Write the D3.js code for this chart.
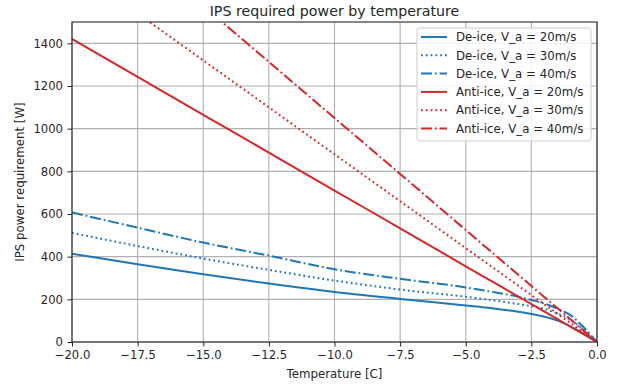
<!DOCTYPE html>
<html>
<head>
<meta charset="utf-8">
<script src="https://cdn.jsdelivr.net/npm/d3@7"></script>
<style>
  body { margin: 0; background: #fff; }
  svg { display: block; font-family: "DejaVu Sans", sans-serif; }
</style>
</head>
<body>
<svg id="chart" width="624" height="389"></svg>
<script>
// ---- data ----
const temperatures = [-20, -17.5, -15, -12.5, -10, -7.5, -5, -4, -3, -2.5, -2, -1.5, -1, -0.5, 0];
const deIce20  = [414, 364, 318, 274, 234, 202, 171, 158, 142, 131, 118, 100, 72, 38, 0];
const deIce30  = [511, 450, 391, 338, 288, 246, 212, 196, 178, 168, 155, 133, 104, 56, 0];
const deIce40  = [607, 536, 466, 405, 341, 296, 256, 235, 212, 197, 180, 156, 125, 68, 0];
const antiIce20 = [1420, 1243, 1065, 888, 710, 533, 355, 284, 213, 178, 142, 107, 71, 36, 0];
const antiIce30 = [1760, 1540, 1320, 1100, 880, 660, 440, 352, 264, 220, 176, 132, 88, 44, 0];
const antiIce40 = [2100, 1838, 1575, 1313, 1050, 788, 525, 420, 315, 263, 210, 158, 105, 53, 0];
const seriesNames = ["De-ice, V_a = 20m/s", "De-ice, V_a = 30m/s", "De-ice, V_a = 40m/s",
                     "Anti-ice, V_a = 20m/s", "Anti-ice, V_a = 30m/s", "Anti-ice, V_a = 40m/s"];
const xTicks = [-20, -17.5, -15, -12.5, -10, -7.5, -5, -2.5, 0];
const yTicks = [0, 200, 400, 600, 800, 1000, 1200, 1400];
const title = "IPS required power by temperature";
const xLabel = "Temperature [C]";
const yLabel = "IPS power requirement [W]";

// ---- styles ----
const blue = "#1f77b4", red = "#d62728";
const dashes = { solid: null, dotted: "1.8,3", dashdot: "11,2.9,1.8,2.9" };
const series = [
  { name: seriesNames[0], values: deIce20, color: blue, dash: dashes.solid },
  { name: seriesNames[1], values: deIce30, color: blue, dash: dashes.dotted },
  { name: seriesNames[2], values: deIce40, color: blue, dash: dashes.dashdot },
  { name: seriesNames[3], values: antiIce20, color: red, dash: dashes.solid },
  { name: seriesNames[4], values: antiIce30, color: red, dash: dashes.dotted },
  { name: seriesNames[5], values: antiIce40, color: red, dash: dashes.dashdot }
];

const svg = d3.select("#chart");
const L = 72, R = 597, T = 22, B = 342;
const x = d3.scaleLinear().domain([-20, 0]).range([L, R]);
const y = d3.scaleLinear().domain([0, 1500]).range([B, T]);

// grid
const grid = svg.append("g").attr("stroke", "#b0b0b0").attr("stroke-width", 1.1);
xTicks.forEach(t => grid.append("line").attr("x1", x(t)).attr("x2", x(t)).attr("y1", T).attr("y2", B));
yTicks.forEach(t => grid.append("line").attr("x1", L).attr("x2", R).attr("y1", y(t)).attr("y2", y(t)));

// clip
svg.append("clipPath").attr("id", "clip").append("rect")
  .attr("x", L).attr("y", T).attr("width", R - L).attr("height", B - T);

const line = d3.line().x((d, i) => x(temperatures[i])).y(d => y(d)).curve(d3.curveMonotoneX);
const lines = svg.append("g").attr("clip-path", "url(#clip)");
series.forEach(s => {
  lines.append("path").attr("d", line(s.values))
    .attr("fill", "none").attr("stroke", s.color).attr("stroke-width", 2)
    .attr("stroke-dasharray", s.dash);
});

// axes
const fmtX = d => d3.format(".1f")(d).replace("-", "\u2212");
const xAxis = d3.axisBottom(x).tickValues(xTicks).tickFormat(fmtX).tickSize(4.5).tickPadding(4.5);
const yAxis = d3.axisLeft(y).tickValues(yTicks).tickFormat(d3.format("d")).tickSize(4.5).tickPadding(4.5);
const gx = svg.append("g").attr("transform", `translate(0,${B})`).call(xAxis);
const gy = svg.append("g").attr("transform", `translate(${L},0)`).call(yAxis);
[gx, gy].forEach(g => {
  g.select(".domain").remove();
  g.selectAll("text").attr("font-size", 11.6).attr("fill", "#262626").attr("font-family", "DejaVu Sans");
  g.selectAll("line").attr("stroke", "#262626");
});

// frame
svg.append("rect").attr("x", L).attr("y", T).attr("width", R - L).attr("height", B - T)
  .attr("fill", "none").attr("stroke", "#262626").attr("stroke-width", 1.1);

// labels
svg.append("text").attr("x", (L + R) / 2).attr("y", 16).attr("text-anchor", "middle")
  .attr("font-size", 14.2).attr("fill", "#262626").text(title);
svg.append("text").attr("x", (L + R) / 2).attr("y", 378).attr("text-anchor", "middle")
  .attr("font-size", 11.8).attr("fill", "#262626").text(xLabel);
svg.append("text").attr("transform", `translate(24,${(T + B) / 2}) rotate(-90)`).attr("text-anchor", "middle")
  .attr("font-size", 11.8).attr("fill", "#262626").text(yLabel);

// legend
const lg = svg.append("g");
lg.append("rect").attr("x", 417).attr("y", 28).attr("width", 174).attr("height", 113)
  .attr("rx", 3).attr("fill", "#fff").attr("fill-opacity", 0.85).attr("stroke", "#cccccc");
series.forEach((s, i) => {
  const cy = 37 + i * 18.3;
  lg.append("line").attr("x1", 421).attr("x2", 447).attr("y1", cy).attr("y2", cy)
    .attr("stroke", s.color).attr("stroke-width", 2).attr("stroke-dasharray", s.dash);
  lg.append("text").attr("x", 456).attr("y", cy).attr("dy", "0.36em")
    .attr("font-size", 11.8).attr("fill", "#262626").text(s.name);
});
</script>
</body>
</html>
